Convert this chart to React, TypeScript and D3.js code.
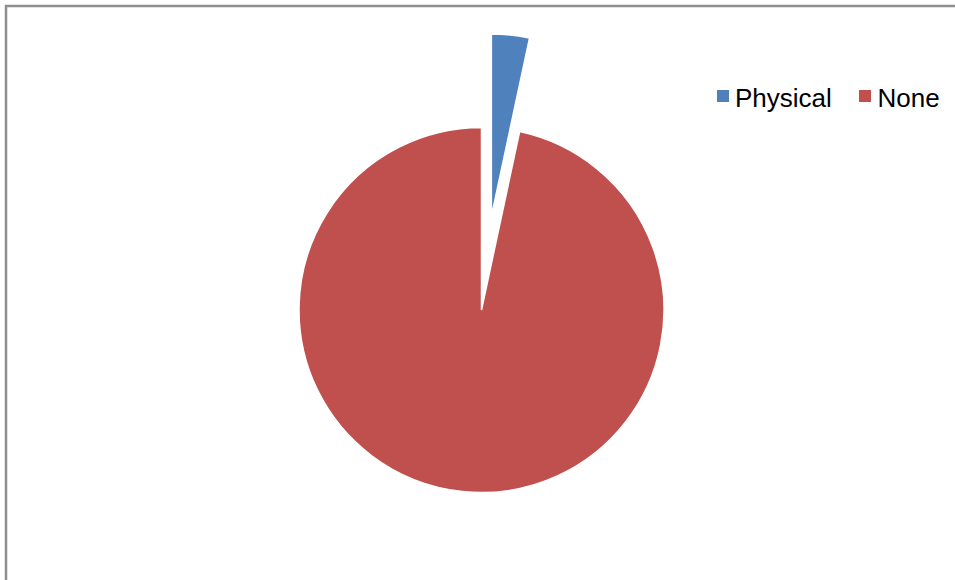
import React from "react";
import * as d3 from "d3";

const categories = ["Physical", "None"];
const values = [3.35, 96.65];
const colors = ["#4F81BD", "#C0504D"];
const explode = [94, 0];

export default function App() {
  const W = 955, H = 580;
  const cx = 481.5, cy = 310, r = 182.5;
  const pie = d3.pie<number>().sort(null).startAngle(0).endAngle(2 * Math.PI);
  const arcs = pie(values);
  const arc = d3.arc<d3.PieArcDatum<number>>().innerRadius(0).outerRadius(r);
  return (
    <svg width={W} height={H} style={{ position: "fixed", left: 0, top: 0, background: "#fff" }}>
      <path d={`M6,${H} V6 H${W}`} fill="none" stroke="#8e8e8e" strokeWidth={2.5} />
      <g transform={`translate(${cx},${cy})`}>
        {arcs.map((a, i) => {
          const mid = (a.startAngle + a.endAngle) / 2;
          const dx = Math.sin(mid) * explode[i];
          const dy = -Math.cos(mid) * explode[i];
          return (
            <path key={i} d={arc(a) || ""} fill={colors[i]} stroke="#fff" strokeWidth={1.5}
              transform={`translate(${dx},${dy})`} />
          );
        })}
      </g>
      <g fontFamily="Liberation Sans, Arial, sans-serif" fontSize={26} fill="#000">
        <rect x={717} y={90} width={12} height={12} fill={colors[0]} />
        <text x={735} y={106.5}>{categories[0]}</text>
        <rect x={859} y={90} width={12} height={12} fill={colors[1]} />
        <text x={877.5} y={106.5}>{categories[1]}</text>
      </g>
    </svg>
  );
}
